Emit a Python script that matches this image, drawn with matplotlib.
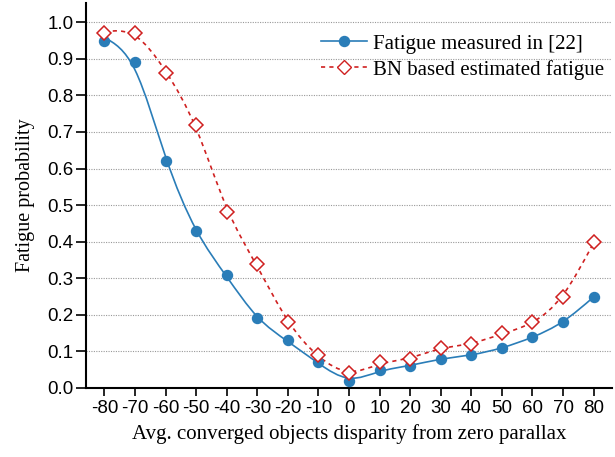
import numpy as np
import matplotlib
matplotlib.use("Agg")
import matplotlib.pyplot as plt
from matplotlib.path import Path
from matplotlib.patches import PathPatch
from matplotlib.lines import Line2D

plt.rcParams['axes.unicode_minus'] = False

disparity = [-80, -70, -60, -50, -40, -30, -20, -10, 0, 10, 20, 30, 40, 50, 60, 70, 80]
measured = [0.95, 0.89, 0.62, 0.43, 0.31, 0.19, 0.13, 0.07, 0.02, 0.05, 0.06,
            0.08, 0.09, 0.11, 0.14, 0.18, 0.25]
estimated = [0.97, 0.97, 0.86, 0.72, 0.48, 0.34, 0.18, 0.09, 0.04, 0.07, 0.08,
             0.11, 0.12, 0.15, 0.18, 0.25, 0.40]

blue = '#2a7db8'
red = '#cf2020'


def spline_path(x, y, lam=35.0):
    # smoothing spline (Reinsch), drawn as bezier segments
    x = np.asarray(x, float)
    y = np.asarray(y, float)
    n = len(x)
    h = np.diff(x)
    Q = np.zeros((n, n - 2))
    R = np.zeros((n - 2, n - 2))
    for j in range(1, n - 1):
        Q[j - 1, j - 1] = 1 / h[j - 1]
        Q[j, j - 1] = -1 / h[j - 1] - 1 / h[j]
        Q[j + 1, j - 1] = 1 / h[j]
        R[j - 1, j - 1] = (h[j - 1] + h[j]) / 3
        if j < n - 2:
            R[j - 1, j] = R[j, j - 1] = h[j] / 6
    g = np.linalg.solve(R + lam * Q.T @ Q, Q.T @ y)
    f = y - lam * Q @ g
    M = np.concatenate([[0], g, [0]])
    d = np.zeros(n)
    for i in range(n - 1):
        d[i] = (f[i + 1] - f[i]) / h[i] - h[i] * (2 * M[i] + M[i + 1]) / 6
    d[-1] = (f[-1] - f[-2]) / h[-1] + h[-1] * (M[-2] + 2 * M[-1]) / 6
    verts = [(x[0], f[0])]
    codes = [Path.MOVETO]
    for i in range(n - 1):
        verts += [(x[i] + h[i] / 3, f[i] + d[i] * h[i] / 3),
                  (x[i + 1] - h[i] / 3, f[i + 1] - d[i + 1] * h[i] / 3),
                  (x[i + 1], f[i + 1])]
        codes += [Path.CURVE4] * 3
    return Path(verts, codes)


fig = plt.figure(figsize=(6.15, 4.57), dpi=100)
ax = fig.add_axes([0.14, 0.151, 0.855, 0.842])

ax.add_patch(PathPatch(spline_path(disparity, measured), fill=False,
                       edgecolor=blue, lw=1.2, zorder=3))
ax.add_patch(PathPatch(spline_path(disparity, estimated), fill=False,
                       edgecolor=red, lw=1.2, ls=(0, (2.5, 2.5)), zorder=3))
ax.plot(disparity, measured, 'o', color=blue, ms=7.2, zorder=4)
ax.plot(disparity, estimated, 'D', mfc='white', mec=red, mew=1.1, ms=7.2, zorder=4)

ax.set_xlim(-86, 86)
ax.set_ylim(0, 1.052)
ax.set_xticks(disparity)
ax.set_yticks(np.arange(0, 1.01, 0.1))
ax.set_yticklabels(['%.1f' % v for v in np.arange(0, 1.01, 0.1)])
ax.tick_params(axis='both', direction='out', labelsize=13.5, width=1.2)
ax.tick_params(axis='y', length=7, pad=2)
ax.tick_params(axis='x', length=6, pad=3)
for lab in ax.get_xticklabels() + ax.get_yticklabels():
    lab.set_family('Liberation Sans')
ax.spines['top'].set_visible(False)
ax.spines['right'].set_visible(False)
ax.spines['left'].set_linewidth(1.5)
ax.spines['bottom'].set_linewidth(1.5)
ax.yaxis.grid(True, ls=(0, (1, 1.2)), color='#999999', lw=0.8)
ax.set_axisbelow(True)

ax.set_xlabel('Avg. converged objects disparity from zero parallax',
              family='Liberation Serif', fontsize=15, labelpad=5)
ax.set_ylabel('Fatigue probability', family='Liberation Serif', fontsize=14.5, labelpad=9)

handles = [
    Line2D([], [], color=blue, lw=1.2, marker='o', ms=7.2),
    Line2D([], [], color=red, lw=1.2, ls=(0, (2.5, 2.5)), marker='D',
           mfc='white', mec=red, ms=7.2),
]
ax.legend(handles, ['Fatigue measured in [22]', 'BN based estimated fatigue'],
          loc='upper right', bbox_to_anchor=(0.985, 0.92), frameon=False,
          borderpad=0, borderaxespad=0,
          prop={'family': 'Liberation Serif', 'size': 15},
          handlelength=2.2, handletextpad=0.3, labelspacing=0.3)

fig.savefig('out.png', dpi=100)
